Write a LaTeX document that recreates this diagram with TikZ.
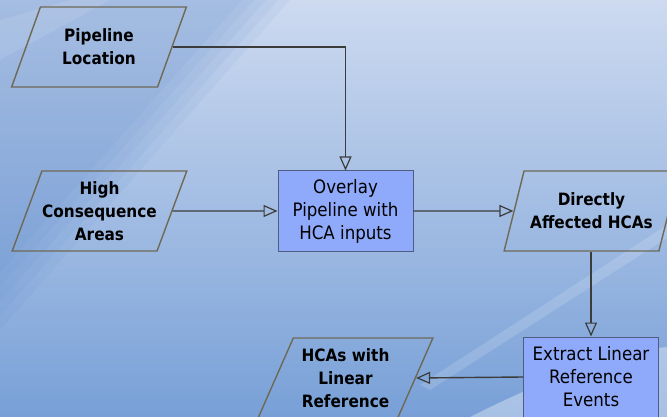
\documentclass[tikz,border=0pt]{standalone}
\usepackage{fontspec}
\setsansfont{DejaVu Sans Condensed}
\usetikzlibrary{shapes.geometric,arrows.meta,positioning}

% Colours
\definecolor{boxfill}{RGB}{143,170,250}
\definecolor{boxline}{RGB}{80,92,130}
\definecolor{dataline}{RGB}{110,105,85}
\definecolor{flowline}{RGB}{60,60,60}
\definecolor{bgdark}{RGB}{120,160,215}
\definecolor{bglight}{RGB}{205,218,240}
\definecolor{bgdeep}{RGB}{80,130,200}

\tikzset{
  process/.style={draw=boxline, line width=1pt, fill=boxfill,
    minimum width=135pt, minimum height=80pt, inner sep=2pt,
    align=center, font=\sffamily\fontsize{18.5}{23}\selectfont},
  dataio/.style={trapezium, trapezium left angle=63.4, trapezium right angle=116.6,
    trapezium stretches=true, draw=dataline, line width=1.4pt,
    minimum width=175pt, minimum height=80pt, inner sep=0pt,
    align=center, font=\sffamily\bfseries\fontsize{17}{23}\selectfont},
  flow/.style={draw=flowline, line width=1.4pt,
    -{Triangle[open, length=14pt, width=12pt, line width=1.2pt]}},
}

\begin{document}
\begin{tikzpicture}[x=1pt, y=-1pt]
% Background
\useasboundingbox (0,0) rectangle (667,417);
\shade[shading angle=135, top color=bglight, bottom color=bgdark] (0,0) rectangle (667,417);
% darker wedge top left, soft edge
\foreach \d in {0,12,24,36,48}
  \fill[bgdeep, opacity=0.07] (0,0) -- (290-\d,0) -- (0,330-1.2*\d) -- cycle;
\fill[white, opacity=0.10] (0,20) -- (70,0) -- (110,0) -- (0,60) -- cycle;
% light streaks lower right
\fill[white, opacity=0.15] (420,385) -- (667,225) -- (667,238) -- (430,390) -- cycle;
\fill[white, opacity=0.35] (470,417) .. controls (560,372) and (620,352) .. (667,347) -- (667,417) -- cycle;

% Inputs
\node[dataio] (loc) at (99,47) {Pipeline\\Location};
\node[dataio] (hca) at (99.5,211) {High\\Consequence\\Areas};

% Processing
\node[process] (overlay) at (345.5,211) {Overlay\\Pipeline with\\HCA inputs};
\node[dataio] (direct) at (591.5,211) {Directly\\Affected HCAs};
\node[process] (extract) at (591,377) {Extract Linear\\Reference\\Events};
\node[dataio] (linref) at (345.5,378) {HCAs with\\Linear\\Reference};

% Connectors
\draw[flow] (loc.east) -| (overlay.north);
\draw[flow] (hca.east) -- (overlay.west);
\draw[flow] (overlay.east) -- (direct.west);
\draw[flow] (direct.south -| extract.north) -- (extract.north);
\draw[flow] (extract.west) -- (linref.east);
\end{tikzpicture}
\end{document}
